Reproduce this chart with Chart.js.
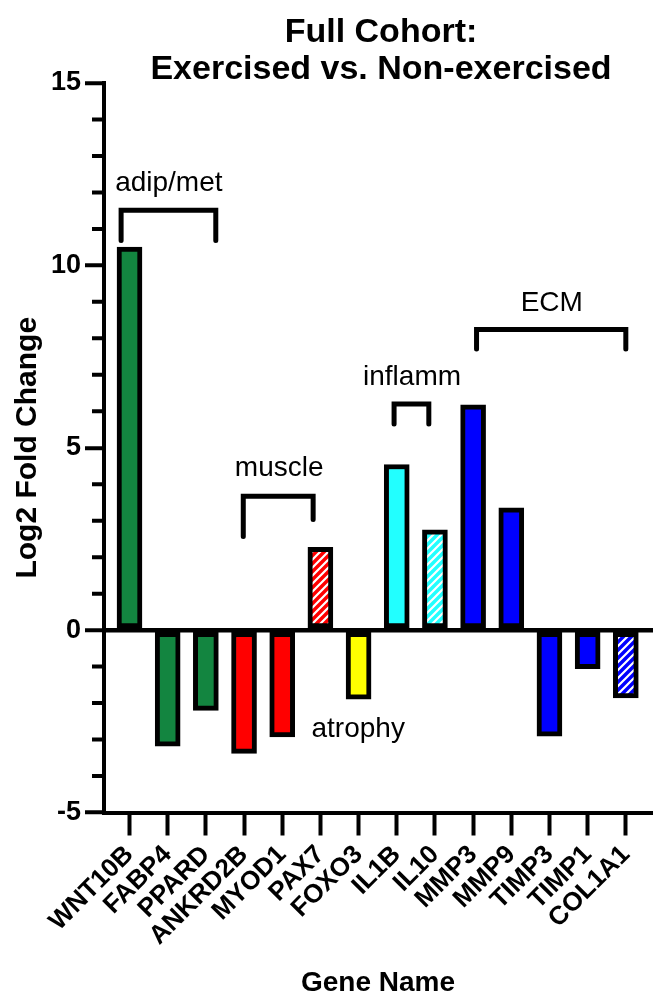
<!DOCTYPE html>
<html lang="en">
<head>
<meta charset="UTF-8" />
<title>Full Cohort: Exercised vs. Non-exercised</title>
<script src="https://cdn.jsdelivr.net/npm/chart.js"></script>
<style>
  html, body { margin: 0; padding: 0; background: #fff; }
  #foldChart { display: block; }
</style>
</head>
<body>
<canvas id="foldChart" width="653" height="996"></canvas>
<script>
// ---- data ----
const genes = ["WNT10B", "FABP4", "PPARD", "ANKRD2B", "MYOD1", "PAX7", "FOXO3",
  "IL1B", "IL10", "MMP3", "MMP9", "TIMP3", "TIMP1", "COL1A1"];
const foldChange = [10.5, -3.18, -2.2, -3.38, -2.93, 2.27, -1.89,
  4.54, 2.75, 6.18, 3.35, -2.91, -1.06, -1.86];
const barColors = ["#138540", "#138540", "#138540", "#ff0000", "#ff0000", "#ff0000", "#ffff00",
  "#22ffff", "#22ffff", "#0000ff", "#0000ff", "#0000ff", "#0000ff", "#0000ff"];
const hatched = [false, false, false, false, false, true, false,
  false, true, false, false, false, false, true];
const yMin = -5, yMax = 15, yStep = 5;

// group brackets, in data units (x = gene index, y = log2 fold change)
const groupNames = ["adip/met", "muscle", "inflamm", "ECM"];
const bracketX = [[-0.22, 2.26], [2.98, 4.81], [6.93, 7.84], [9.09, 13.0]];
const bracketTop = [11.51, 3.67, 6.2, 8.24];
const bracketLegs = [[10.68, 10.68], [2.57, 3.03], [5.65, 5.65], [7.71, 7.71]];
const groupLabelAt = [[1.03, 12.03], [3.92, 4.22], [7.4, 6.73], [11.06, 8.76]];
const noteText = "atrophy";
const noteAt = [5.99, -2.93];

Chart.defaults.font.family = "'Liberation Sans', Arial, sans-serif";
Chart.defaults.color = "#000";

function stripes(color) {
  const c = document.createElement("canvas");
  c.width = 8; c.height = 8;
  const g = c.getContext("2d");
  g.fillStyle = color;
  g.fillRect(0, 0, 8, 8);
  g.strokeStyle = "#fff";
  g.lineWidth = 2.2;
  g.beginPath();
  g.moveTo(-2, 10); g.lineTo(10, -2);
  g.moveTo(-6, 6); g.lineTo(6, -6);
  g.moveTo(2, 14); g.lineTo(14, 2);
  g.stroke();
  return g.createPattern(c, "repeat");
}

const fills = barColors.map((c, i) => hatched[i] ? stripes(c) : c);

const annotate = {
  id: "annotate",
  afterDraw(chart) {
    const { ctx, chartArea, scales } = chart;
    const x = scales.x, y = scales.y;
    ctx.save();

    // minor y ticks
    ctx.strokeStyle = "#000";
    ctx.lineWidth = 4;
    ctx.beginPath();
    for (let v = yMin; v <= yMax; v++) {
      if (v % yStep === 0) continue;
      const py = y.getPixelForValue(v);
      ctx.moveTo(chartArea.left - 12, py);
      ctx.lineTo(chartArea.left, py);
    }
    ctx.stroke();

    // brackets
    ctx.lineWidth = 5;
    ctx.lineCap = "round";
    ctx.lineJoin = "miter";
    groupNames.forEach((name, i) => {
      const x1 = x.getPixelForValue(bracketX[i][0]);
      const x2 = x.getPixelForValue(bracketX[i][1]);
      const yt = y.getPixelForValue(bracketTop[i]);
      ctx.beginPath();
      ctx.moveTo(x1, y.getPixelForValue(bracketLegs[i][0]));
      ctx.lineTo(x1, yt);
      ctx.lineTo(x2, yt);
      ctx.lineTo(x2, y.getPixelForValue(bracketLegs[i][1]));
      ctx.stroke();
    });

    // group labels
    ctx.fillStyle = "#000";
    ctx.textAlign = "center";
    ctx.textBaseline = "alphabetic";
    ctx.font = "28px 'Liberation Sans', Arial, sans-serif";
    groupNames.forEach((name, i) => {
      ctx.fillText(name, x.getPixelForValue(groupLabelAt[i][0]), y.getPixelForValue(groupLabelAt[i][1]));
    });
    ctx.fillText(noteText, x.getPixelForValue(noteAt[0]), y.getPixelForValue(noteAt[1]));

    // title
    ctx.font = "bold 34px 'Liberation Sans', Arial, sans-serif";
    ctx.fillText("Full Cohort:", 381, 42);
    ctx.fillText("Exercised vs. Non-exercised", 381, 79);

    // axis titles
    ctx.font = "bold 28px 'Liberation Sans', Arial, sans-serif";
    ctx.fillText("Gene Name", 378, 991);
    ctx.font = "bold 30px 'Liberation Sans', Arial, sans-serif";
    ctx.translate(36, (chartArea.top + chartArea.bottom) / 2);
    ctx.rotate(-Math.PI / 2);
    ctx.fillText("Log2 Fold Change", 0, 0);

    ctx.restore();
  }
};

new Chart(document.getElementById("foldChart"), {
  type: "bar",
  data: {
    datasets: [{
      data: genes.map((g, i) => ({ x: i, y: foldChange[i] })),
      backgroundColor: fills,
      borderColor: "#000",
      borderWidth: 5,
      borderSkipped: false,
      barThickness: 25
    }]
  },
  options: {
    responsive: false,
    animation: false,
    layout: { padding: { top: 83, left: 0, right: 0, bottom: 0 } },
    plugins: { legend: { display: false }, tooltip: { enabled: false } },
    scales: {
      x: {
        type: "linear",
        offset: false,
        min: -0.668,
        max: 13.712,
        afterBuildTicks: (s) => { s.ticks = genes.map((g, i) => ({ value: i })); },
        afterFit: (s) => { s.height = 183.5; s.paddingLeft = 0; s.paddingRight = 0; },
        ticks: {
          autoSkip: false,
          minRotation: 45,
          maxRotation: 45,
          padding: 4,
          font: { size: 26, weight: "bold" },
          callback: (v) => genes[v]
        },
        grid: { offset: false, drawOnChartArea: false, tickLength: 23, tickWidth: 4, tickColor: "#000" },
        border: { color: "#000", width: 4 }
      },
      y: {
        min: yMin,
        max: yMax,
        afterFit: (s) => { s.width = 104; },
        ticks: { stepSize: yStep, padding: 4, font: { size: 27, weight: "bold" } },
        grid: {
          tickLength: 19,
          tickWidth: 4,
          tickColor: "#000",
          lineWidth: 4.5,
          color: (c) => (c.tick && c.tick.value === 0) ? "#000" : "rgba(0,0,0,0)"
        },
        border: { color: "#000", width: 4 }
      }
    }
  },
  plugins: [annotate]
});
</script>
</body>
</html>
